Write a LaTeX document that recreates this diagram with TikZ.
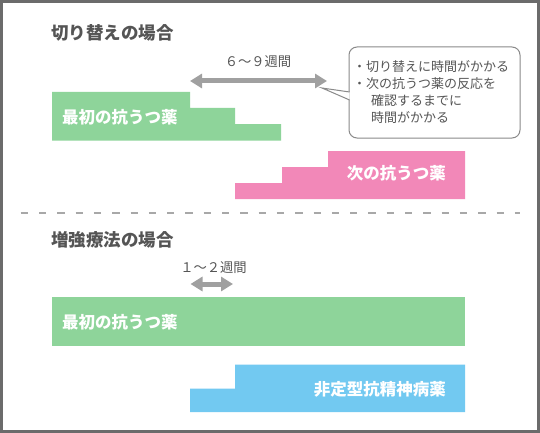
\documentclass[tikz,border=0pt]{standalone}
\usepackage{fontspec}
\setmainfont{Noto Sans CJK JP}
\usetikzlibrary{arrows.meta}
\definecolor{framec}{HTML}{6B6B6B}
\definecolor{greenc}{HTML}{8ED49A}
\definecolor{pinkc}{HTML}{F288B8}
\definecolor{bluec}{HTML}{72C9F1}
\definecolor{arrowc}{HTML}{A0A0A0}
\definecolor{dashc}{HTML}{A8A8A8}
\definecolor{textc}{HTML}{555555}
\definecolor{calloutc}{HTML}{8A8A8A}
\tikzset{
  titletext/.style={inner sep=0, text=textc, font=\fontsize{17.5}{19}\selectfont\bfseries},
  bartext/.style={inner sep=0, text=white, font=\fontsize{16.5}{18}\selectfont\bfseries},
  weektext/.style={inner sep=0, text=textc, font=\fontsize{13.3}{15}\selectfont},
  garrow/.style={draw=arrowc, line width=5pt, {Triangle[length=12pt,width=14pt]}-{Triangle[length=12pt,width=14pt]}, shorten <=0pt, shorten >=0pt},
  dashline/.style={draw=dashc, line width=2pt, dash pattern=on 7.3pt off 11pt},
  calloutbox/.style={draw=calloutc, line width=1pt, fill=white, rounded corners=8pt},
  callouttext/.style={inner sep=0, text=textc, align=left, font=\fontsize{13}{17.3}\selectfont},
}
\begin{document}
\begin{tikzpicture}[x=1pt,y=-1pt]
\useasboundingbox (0,0) rectangle (540,433);
\fill[white] (0,0) rectangle (540,433);
\draw[framec, line width=3pt] (1.5,1.5) rectangle (538.5,431.5);

% ---- section 1 ----
\node[titletext, anchor=west] (t1) at (51,33) {切り替えの場合};

\fill[greenc] (52,92) -- (190,92) -- (190,108) -- (235,108) -- (235,124) -- (281,124) -- (281,140.5) -- (52,140.5) -- cycle;
\node[bartext, anchor=west] (g1) at (62,117) {最初の抗うつ薬};

\fill[pinkc] (235,183) -- (282,183) -- (282,167) -- (328,167) -- (328,151) -- (465,151) -- (465,199) -- (235,199) -- cycle;
\node[bartext, anchor=east] (p1) at (446,173) {次の抗うつ薬};

\node[weektext] (l1) at (258,62) {６～９週間};
\coordinate (a1s) at (190,81);
\coordinate (a1e) at (327,81);
\draw[garrow] (a1s) -- (a1e);

\draw[calloutbox] (349,47) rectangle (520,138);
\coordinate (tip) at (322,88);
\coordinate (tu) at (349.6,92);
\coordinate (tl) at (349.6,100);
\fill[white] (tu) -- (tip) -- (tl) -- cycle;
\draw[calloutc, line width=1pt, line join=miter] (tu) -- (tip) -- (tl);
\node[callouttext, anchor=west] (ct) at (353,92) {・切り替えに時間がかかる\\・次の抗うつ薬の反応を\\\hspace*{18pt}確認するまでに\\\hspace*{18pt}時間がかかる};

% ---- separator ----
\coordinate (dl) at (20.7,213);
\coordinate (dr) at (520,213);
\draw[dashline] (dl) -- (dr);

% ---- section 2 ----
\node[titletext, anchor=west] (t2) at (51,240) {増強療法の場合};

\node[weektext] (l2) at (213.5,268) {１～２週間};
\coordinate (a2s) at (190.5,284);
\coordinate (a2e) at (233,284);
\draw[garrow] (a2s) -- (a2e);

\fill[greenc] (52,297.3) rectangle (465,345.5);
\node[bartext, anchor=west] (g2) at (62,322) {最初の抗うつ薬};

\fill[bluec] (235,364.5) -- (465,364.5) -- (465,412) -- (190,412) -- (190,388.5) -- (235,388.5) -- cycle;
\node[bartext, anchor=east] (b1) at (446,389) {非定型抗精神病薬};
\end{tikzpicture}
\end{document}
